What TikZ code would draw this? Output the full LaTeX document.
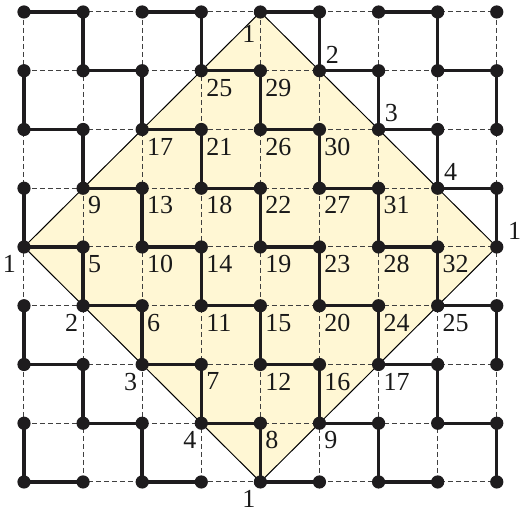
\documentclass[tikz,border=0pt]{standalone}
\usepackage{fontspec}
\setmainfont{Liberation Serif}
\usepackage{tikz}
\usetikzlibrary{positioning}
\definecolor{diamondyellow}{RGB}{255,247,212}
\definecolor{dotblack}{RGB}{30,28,30}

\begin{document}
\begin{tikzpicture}[
    x=29.55pt, y=-29.375pt,
    gridline/.style={line width=0.5pt, dash pattern=on 2.5pt off 1.5pt, black!75},
    bond/.style={line width=1.7pt, line cap=round, dotblack},
    rim/.style={line width=0.5pt, black},
    dot/.style={circle, fill=dotblack, inner sep=0pt, minimum size=6.6pt},
    lbl/.style={font=\fontsize{13}{15}\selectfont, inner sep=0pt, text=black!90},
    lblbr/.style={lbl, anchor=north west, xshift=2.3pt, yshift=-4pt},
    lblbl/.style={lbl, anchor=north east, xshift=-2.3pt, yshift=-4pt},
    lblar/.style={lbl, anchor=south west, xshift=3pt, yshift=3.5pt},
]
\useasboundingbox (-0.406,-0.204) rectangle (8.393,8.494);

% Lattice points
\foreach \i in {0,...,8}
  \foreach \j in {0,...,8}
    \coordinate (v-\i-\j) at (\i,\j);

% Diamond
\fill[diamondyellow] (v-4-0) -- (v-8-4) -- (v-4-8) -- (v-0-4) -- cycle;

% Dashed grid
\foreach \k in {0,...,8} {
  \draw[gridline] (v-0-\k) -- (v-8-\k);
  \draw[gridline] (v-\k-0) -- (v-\k-8);
}

\draw[rim] (v-4-0) -- (v-8-4) -- (v-4-8) -- (v-0-4) -- cycle;

% Thick bonds
\foreach \i in {0,...,7}
  \foreach \j in {0,...,8} {
    \pgfmathtruncatemacro\s{\i+\j}
    \pgfmathtruncatemacro\n{\i+1}
    \ifodd\s\else \draw[bond] (v-\i-\j) -- (v-\n-\j);\fi
  }
\foreach \i in {0,...,8}
  \foreach \j in {0,...,7} {
    \pgfmathtruncatemacro\s{\i+\j}
    \pgfmathtruncatemacro\n{\j+1}
    \ifodd\s \draw[bond] (v-\i-\j) -- (v-\i-\n);\fi
  }

% Dots
\foreach \i in {0,...,8}
  \foreach \j in {0,...,8}
    \node[dot] (dot-\i-\j) at (v-\i-\j) {};

% Labels inside
\foreach \i/\j/\t in {3/1/25, 4/1/29,
    2/2/17, 3/2/21, 4/2/26, 5/2/30,
    1/3/9, 2/3/13, 3/3/18, 4/3/22, 5/3/27, 6/3/31,
    1/4/5, 2/4/10, 3/4/14, 4/4/19, 5/4/23, 6/4/28, 7/4/32,
    2/5/6, 3/5/11, 4/5/15, 5/5/20, 6/5/24, 7/5/25,
    3/6/7, 4/6/12, 5/6/16, 6/6/17,
    4/7/8, 5/7/9}
  \node[lblbr] (lab-\i-\j) at (v-\i-\j) {\t};

% Labels on the rim
\foreach \i/\j/\t in {1/5/2, 2/6/3, 3/7/4}
  \node[lblbl] (lab-\i-\j) at (v-\i-\j) {\t};
\node[lblbl, yshift=-2.5pt] (lab-4-0) at (v-4-0) {1};
\node[lblbl, xshift=-1.5pt] (lab-0-4) at (v-0-4) {1};
\node[lblbl] (lab-4-8) at (v-4-8) {1};
\foreach \i/\j/\t in {5/1/2, 6/2/3, 7/3/4}
  \node[lblar] (lab-\i-\j) at (v-\i-\j) {\t};
\node[lblar, xshift=2.5pt] (lab-8-4) at (v-8-4) {1};

\end{tikzpicture}
\end{document}
